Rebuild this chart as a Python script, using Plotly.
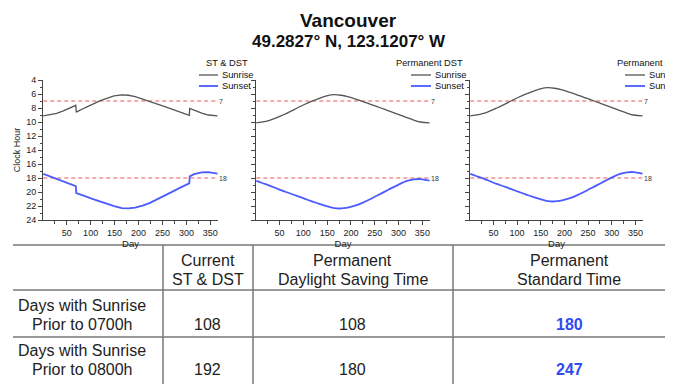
import plotly.graph_objects as go

# ---------------- data ----------------
days_cur = [1, 12, 29, 43, 57, 69, 70, 71, 88, 102, 118, 132, 149, 165, 179, 193, 210, 224, 241, 255, 271, 285, 302, 306, 307, 316, 332, 346, 365]
sunrise_cur = [9.13, 9.03, 8.77, 8.42, 8.00, 7.62, 8.60, 8.55, 7.97, 7.50, 7.03, 6.67, 6.27, 6.12, 6.18, 6.38, 6.73, 7.05, 7.47, 7.80, 8.20, 8.55, 8.97, 9.05, 8.05, 8.33, 8.72, 9.00, 9.13]
sunset_cur = [17.40, 17.68, 18.08, 18.47, 18.85, 19.15, 20.16, 20.18, 20.60, 20.95, 21.33, 21.67, 22.02, 22.30, 22.35, 22.23, 21.92, 21.55, 21.00, 20.50, 19.95, 19.45, 18.87, 18.77, 17.77, 17.45, 17.20, 17.15, 17.38]

days_perm = [1, 12, 29, 43, 57, 71, 88, 102, 118, 132, 149, 165, 179, 193, 210, 224, 241, 255, 271, 285, 302, 316, 332, 346, 365]
sunrise_pdst = [10.13, 10.03, 9.77, 9.42, 9.00, 8.55, 7.97, 7.50, 7.03, 6.67, 6.27, 6.10, 6.18, 6.38, 6.73, 7.05, 7.47, 7.80, 8.20, 8.55, 8.97, 9.33, 9.72, 10.00, 10.13]
sunset_pdst = [18.40, 18.68, 19.08, 19.47, 19.85, 20.18, 20.60, 20.95, 21.33, 21.67, 22.02, 22.30, 22.35, 22.23, 21.92, 21.55, 21.00, 20.50, 19.95, 19.45, 18.87, 18.45, 18.20, 18.15, 18.38]
sunrise_pst = [9.13, 9.03, 8.77, 8.42, 8.00, 7.55, 6.97, 6.50, 6.03, 5.67, 5.27, 5.10, 5.18, 5.38, 5.73, 6.05, 6.47, 6.80, 7.20, 7.55, 7.97, 8.33, 8.72, 9.00, 9.13]
sunset_pst = [17.40, 17.68, 18.08, 18.47, 18.85, 19.18, 19.60, 19.95, 20.33, 20.67, 21.02, 21.30, 21.35, 21.23, 20.92, 20.55, 20.00, 19.50, 18.95, 18.45, 17.87, 17.45, 17.20, 17.15, 17.38]

thresholds = [7, 18]
threshold_labels = ["7", "18"]
panel_titles = ["ST & DST", "Permanent DST", "Permanent ST"]
series_names = ["Sunrise", "Sunset"]

col_headers = [["Current", "ST & DST"], ["Permanent", "Daylight Saving Time"], ["Permanent", "Standard Time"]]
row_labels = [["Days with Sunrise", "Prior to 0700h"], ["Days with Sunrise", "Prior to 0800h"]]
table_values = [[108, 108, 180], [192, 180, 247]]

title = "Vancouver"
subtitle = "49.2827° N, 123.1207° W"

# ---------------- style / layout ----------------
W, H = 673, 384
OFF = 8  # page body margin in the browser
FONT = "Liberation Sans, Arial, sans-serif"
GRAY = "#555555"
BLUE = "#4a5bff"
RED = "#f29090"
AX = "#444444"

def px(x):
    return (x - OFF) / W

def py(y):
    return 1 - (y - OFF) / H

x_domains = [(43, 218), (256, 430), (470, 643)]
y_domain = (80, 220)
legend_right = [250, 465, 679]
legend_line = [(199, 218), (411, 431), (625, 645)]

panels = [
    (days_cur, sunrise_cur, sunset_cur, "linear"),
    (days_perm, sunrise_pdst, sunset_pdst, "spline"),
    (days_perm, sunrise_pst, sunset_pst, "spline"),
]

fig = go.Figure()
annotations = []
shapes = []

for i, (d, sr, ss, shape) in enumerate(panels):
    xa = "x" if i == 0 else f"x{i+1}"
    ya = "y" if i == 0 else f"y{i+1}"
    for t in thresholds:
        fig.add_trace(go.Scatter(x=[days_perm[0], days_perm[-1]], y=[t, t], mode="lines",
                                 line=dict(color=RED, width=1.3, dash="4px,3px"),
                                 xaxis=xa, yaxis=ya, hoverinfo="skip", showlegend=False))
    fig.add_trace(go.Scatter(x=d, y=sr, mode="lines", name=series_names[0],
                             line=dict(color=GRAY, width=1.3, shape=shape),
                             xaxis=xa, yaxis=ya, showlegend=False))
    fig.add_trace(go.Scatter(x=d, y=ss, mode="lines", name=series_names[1],
                             line=dict(color=BLUE, width=1.8, shape=shape),
                             xaxis=xa, yaxis=ya, showlegend=False))
    for t, lab in zip(thresholds, threshold_labels):
        annotations.append(dict(x=days_perm[-1], y=t, xref=xa, yref=ya, text=lab, showarrow=False,
                                xanchor="left", yanchor="middle", xshift=-1,
                                font=dict(size=7, color="#333", family=FONT)))

    x0, x1 = x_domains[i]
    xaxis = dict(domain=[px(x0), px(x1)], range=[0.5, 366], anchor=ya, automargin=False,
                 showline=True, linecolor=AX, linewidth=1, ticks="outside", ticklen=4,
                 tickwidth=1, tickcolor=AX, tick0=0, dtick=50,
                 minor=dict(dtick=25, ticks="outside", ticklen=2.5, tickcolor=AX, tickwidth=1),
                 showgrid=False, zeroline=False, tickfont=dict(size=9, color="#222", family=FONT),
                 title=dict(text="Day", font=dict(size=9.5, color="#222", family=FONT), standoff=2))
    yaxis = dict(domain=[py(y_domain[1]), py(y_domain[0])], range=[24, 4], anchor=xa, automargin=False,
                 showline=True, linecolor=AX, linewidth=1, ticks="outside", ticklen=4,
                 tickwidth=1, tickcolor=AX, tick0=0, dtick=2,
                 minor=dict(dtick=1, ticks="outside", ticklen=2.5, tickcolor=AX, tickwidth=1),
                 showgrid=False, zeroline=False, showticklabels=(i == 0),
                 tickfont=dict(size=9, color="#222", family=FONT))
    if i == 0:
        yaxis["title"] = dict(text="Clock Hour", font=dict(size=9, color="#222", family=FONT), standoff=4)
    fig.layout[("xaxis" if i == 0 else f"xaxis{i+1}")] = xaxis
    fig.layout[("yaxis" if i == 0 else f"yaxis{i+1}")] = yaxis

    # manual legend
    annotations.append(dict(x=px(legend_right[i]), y=py(63), xref="paper", yref="paper",
                            text=panel_titles[i], showarrow=False, xanchor="right", yanchor="middle",
                            font=dict(size=9.3, color="#111", family=FONT)))
    lx0, lx1 = legend_line[i]
    for j, (nm, col, wd) in enumerate(zip(series_names, [GRAY, BLUE], [1.3, 1.8])):
        yy = 75 + 11 * j
        shapes.append(dict(type="line", xref="paper", yref="paper", x0=px(lx0), x1=px(lx1),
                           y0=py(yy), y1=py(yy), line=dict(color=col, width=wd)))
        annotations.append(dict(x=px(lx1 + 2), y=py(yy), xref="paper", yref="paper", text=nm,
                                showarrow=False, xanchor="left", yanchor="middle",
                                font=dict(size=9.3, color="#111", family=FONT)))

# titles
annotations.append(dict(x=px(348), y=py(21), xref="paper", yref="paper", text=f"<b>{title}</b>",
                        showarrow=False, xanchor="center", yanchor="middle",
                        font=dict(size=19, color="#111", family=FONT)))
annotations.append(dict(x=px(349), y=py(42), xref="paper", yref="paper", text=f"<b>{subtitle}</b>",
                        showarrow=False, xanchor="center", yanchor="middle",
                        font=dict(size=17, color="#111", family=FONT)))

# table
LINE = "#777777"
h_lines = [245, 290, 337]
v_lines = [163, 253, 453]
for yy in h_lines:
    shapes.append(dict(type="line", xref="paper", yref="paper", x0=px(13), x1=px(700),
                       y0=py(yy), y1=py(yy), line=dict(color=LINE, width=1.5)))
for xx in v_lines:
    shapes.append(dict(type="line", xref="paper", yref="paper", x0=px(xx), x1=px(xx),
                       y0=py(245), y1=py(400), line=dict(color=LINE, width=1.5)))

col_centers = [207.5, 353, 569]
row_center_x = 82
TF = dict(size=16, color="#222", family=FONT)
for c, hdr in enumerate(col_headers):
    for k, line in enumerate(hdr):
        annotations.append(dict(x=px(col_centers[c]), y=py(260 + 19 * k), xref="paper", yref="paper",
                                text=line, showarrow=False, xanchor="center", yanchor="middle", font=TF))
row_tops = [305, 350]
for r, lab in enumerate(row_labels):
    for k, line in enumerate(lab):
        annotations.append(dict(x=px(row_center_x), y=py(row_tops[r] + 19 * k), xref="paper", yref="paper",
                                text=line, showarrow=False, xanchor="center", yanchor="middle", font=TF))
    for c, v in enumerate(table_values[r]):
        if c == 2:
            txt = f"<b>{v}</b>"
            f = dict(size=16, color="#2f4cf0", family=FONT)
        else:
            txt = str(v)
            f = TF
        annotations.append(dict(x=px(col_centers[c]), y=py(row_tops[r] + 19), xref="paper", yref="paper",
                                text=txt, showarrow=False, xanchor="center", yanchor="middle", font=f))

fig.update_layout(width=W, height=H, margin=dict(l=0, r=0, t=0, b=0, autoexpand=False),
                  paper_bgcolor="white", plot_bgcolor="white", showlegend=False,
                  font=dict(family=FONT, color="#222"),
                  annotations=annotations, shapes=shapes)

fig.write_html("out.html")
